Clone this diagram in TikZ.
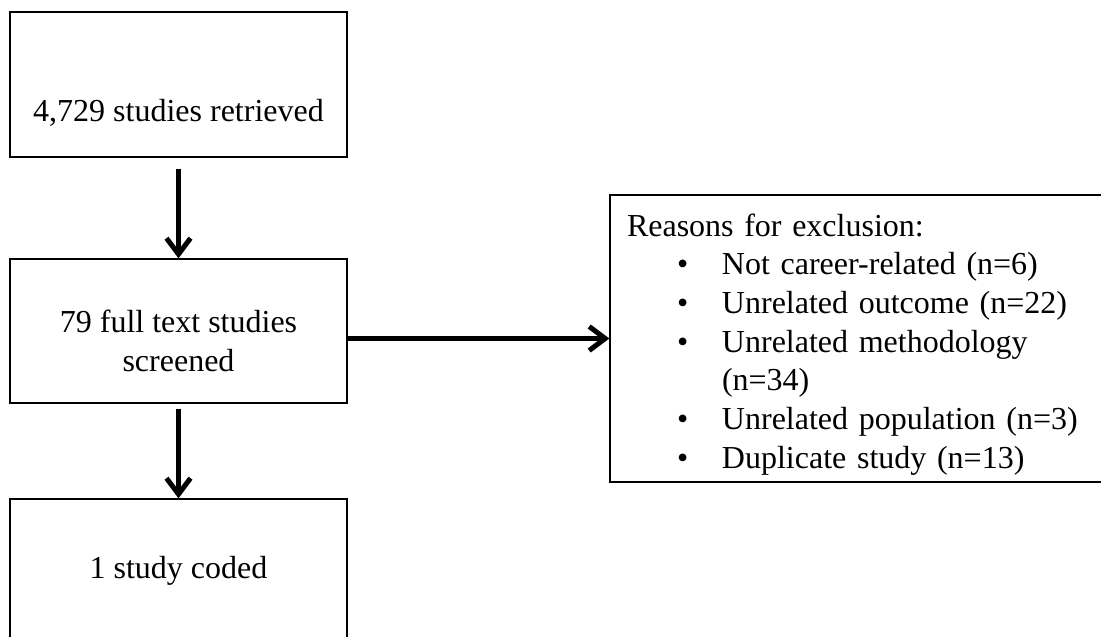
\documentclass[tikz,border=0pt]{standalone}
\usepackage{fontspec}
\setmainfont{Liberation Serif}
\usetikzlibrary{arrows.meta}
\newcommand{\reason}[1]{\hspace*{50pt}\makebox[45pt][l]{\textbullet}#1}

\begin{document}
\begin{tikzpicture}
  [x=1pt,y=-1pt,every node/.style={draw,line width=1.2pt,inner sep=0pt,font=\fontsize{32}{38.67}\selectfont},
   arr/.style={line width=5pt,-{Straight Barb[length=16pt,width=24pt]}}]
  \useasboundingbox (0,0) rectangle (1101,637);
  \node (n1) at (178.5,84.5)  [minimum width=337pt,text height=109pt,text depth=36pt] {4,729 studies retrieved};
  \node (n2) at (178.5,331)   [minimum width=337pt,align=center,text height=112pt,text depth=32pt] {79 full text studies\\screened};
  \node (n3) at (178.5,571.5) [minimum width=337pt,text height=79pt,text depth=66pt] {1 study coded};
  \node (n4) at (862.5,338.5) [inner xsep=17pt,text width=471pt,align=left,text height=41pt,text depth=246pt]
    {Reasons for exclusion:\\
     \reason{Not career-related (n=6)}\\
     \reason{Unrelated outcome (n=22)}\\
     \reason{Unrelated methodology}\\
     \hspace*{95pt}(n=34)\\
     \reason{Unrelated population (n=3)}\\
     \reason{Duplicate study (n=13)}};

  \draw[arr,shorten <=11pt] (n1) -- (n2);
  \draw[arr,shorten <=5pt] (n2) -- (n3);
  \draw[arr] (n2.east |- n4.west) -- (n4.west);

\end{tikzpicture}
\end{document}
